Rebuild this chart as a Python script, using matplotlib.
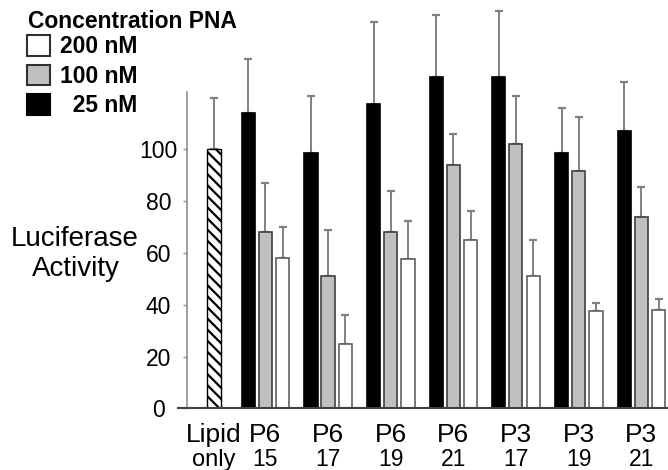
import matplotlib
matplotlib.use("Agg")
import matplotlib.pyplot as plt
from matplotlib.patches import Patch

plt.rcParams['font.family'] = ['Liberation Sans', 'DejaVu Sans']
plt.rcParams['hatch.linewidth'] = 1.6

# ---- data ----
groups = ["P6", "P6", "P6", "P6", "P3", "P3", "P3"]
group_nums = ["15", "17", "19", "21", "17", "19", "21"]
lipid_label = ("Lipid", "only")
lipid_value = 100
lipid_err = 20

legend_title = "Concentration PNA"
conc_labels = ["200 nM", "100 nM", "  25 nM"]
vals_25 = [114, 98.5, 117.5, 128, 128, 98.5, 107]
err_25 = [21, 22, 31.5, 24, 25.5, 17.5, 19]
vals_100 = [68, 51, 68, 94, 102, 91.5, 74]
err_100 = [19, 18, 16, 12, 18.5, 21, 11.5]
vals_200 = [58, 25, 57.5, 65, 51, 37.5, 38]
err_200 = [12, 11, 15, 11, 14, 3.3, 4.2]

yticks = [0, 20, 40, 60, 80, 100]

# ---- figure ----
W, H = 668, 470
fig = plt.figure(figsize=(W / 100, H / 100), dpi=100)
ax_left, ax_right = 178 / W, 1.0
ax_bottom = (H - 408.3) / H
ymax = 122
ax_height = ymax * 2.59 / H
ax = fig.add_axes([ax_left, ax_bottom, ax_right - ax_left, ax_height])

n = len(groups)
pos = [i + 1 for i in range(n)]
bw = 0.21
off_b, off_g, off_w = -0.271, 0.0, 0.279
lipid_x = 0.181

errkw = dict(ecolor="#808080", elinewidth=1.4, capsize=3, capthick=1.6)

# lipid only hatched bar
ax.bar([lipid_x], [lipid_value], bw, color="white", edgecolor="black",
       linewidth=1.0, hatch="\\\\\\", zorder=2)
eb = ax.errorbar([lipid_x], [lipid_value], yerr=[[0], [lipid_err]], fmt="none",
                 zorder=1, **errkw)
for art in eb.get_children():
    art.set_clip_on(False)

bars_specs = [
    (off_b, vals_25, err_25, "black", "black"),
    (off_g, vals_100, err_100, "#c0c0c0", "#404040"),
    (off_w, vals_200, err_200, "white", "#606060"),
]
for off, vals, errs, fc, ec in bars_specs:
    xs = [p + off for p in pos]
    bc = ax.bar(xs, vals, bw, color=fc, edgecolor=ec, linewidth=1.2, zorder=2)
    for r in bc:
        r.set_clip_on(False)
    eb = ax.errorbar(xs, vals, yerr=[[0] * n, errs], fmt="none", zorder=1, **errkw)
    for art in eb.get_children():
        art.set_clip_on(False)

ax.set_xlim(-0.393, 7.428)
ax.set_ylim(0, ymax)

for s in ["top", "right"]:
    ax.spines[s].set_visible(False)
ax.spines["left"].set_position(("data", -0.25))
ax.spines["left"].set_color("#909090")
ax.spines["left"].set_linewidth(1.2)
ax.spines["bottom"].set_color("#404040")
ax.spines["bottom"].set_linewidth(1.5)
ax.spines["bottom"].set_zorder(3)

ax.set_xticks([])
ax.set_yticks(yticks)
ax.set_yticklabels([str(t) for t in yticks])
ax.tick_params(axis="y", length=3, width=1, color="#909090", pad=17.6,
               labelsize=16.5)
for lab in ax.get_yticklabels():
    lab.set_horizontalalignment("center")

# x labels (two lines each, second line smaller)
def xlabel(x, top, bottom, top_size=19, bot_size=16.5):
    ax.annotate(top, xy=(x, 0), xycoords=("data", "figure pixels"),
                xytext=(x, (H - 441.7)), textcoords=("data", "figure pixels"),
                ha="center", va="baseline", fontsize=top_size, annotation_clip=False)
    ax.annotate(bottom, xy=(x, 0), xycoords=("data", "figure pixels"),
                xytext=(x, (H - 466)), textcoords=("data", "figure pixels"),
                ha="center", va="baseline", fontsize=bot_size, annotation_clip=False)

xlabel(lipid_x, lipid_label[0], lipid_label[1], top_size=19, bot_size=17)
for p, g, num in zip(pos, groups, group_nums):
    xlabel(p, g, num)

# y label
fig.text(75 / W, (H - 246.5) / H, "Luciferase", ha="center", va="baseline", fontsize=20)
fig.text(76 / W, (H - 276.5) / H, "Activity", ha="center", va="baseline", fontsize=20)

# legend
fig.text(28 / W, (H - 28) / H, legend_title, ha="left", va="baseline",
         fontsize=16.5, fontweight="bold")
handles = [
    Patch(facecolor="white", edgecolor="#303030", linewidth=1.5),
    Patch(facecolor="#c0c0c0", edgecolor="#303030", linewidth=1.5),
    Patch(facecolor="black", edgecolor="black", linewidth=1.5),
]
leg = fig.legend(handles, conc_labels, loc="upper left",
                 bbox_to_anchor=(27 / W, 1 - 35 / H), frameon=False,
                 prop={"size": 16.5, "weight": "bold"},
                 handlelength=1.0, handleheight=1.0, handletextpad=0.45,
                 labelspacing=0.28, borderpad=0, borderaxespad=0)

fig.savefig("out.png", dpi=100)
